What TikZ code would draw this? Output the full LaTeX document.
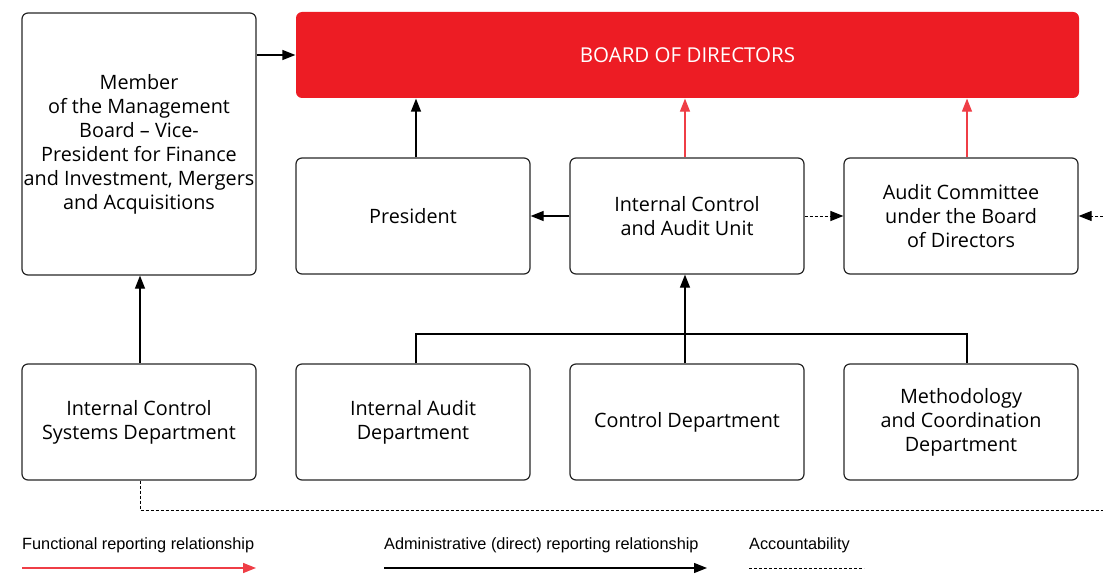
\documentclass[tikz,border=0pt]{standalone}
\usepackage{fontspec}
\setmainfont{Open Sans}
\newfontfamily\legendfont{Liberation Sans}
\usetikzlibrary{arrows.meta,calc}
\definecolor{bred}{HTML}{ED1C24}
\definecolor{lred}{HTML}{EF3E46}
\tikzset{
  box/.style={draw=black!85,line width=1.2pt,rounded corners=6pt,minimum width=234pt,minimum height=116pt,align=center,font=\fontsize{19.8}{24}\selectfont,inner sep=0pt},
  arr/.style={line width=1.2pt,-{Triangle[length=13pt,width=10pt]}},
  farr/.style={line width=1.1pt,draw=lred,-{Triangle[length=13pt,width=10pt]},color=lred},
  acc/.style={line width=1pt,dash pattern=on 3pt off 2pt},
  accarr/.style={acc,-{Triangle[length=13pt,width=10pt]}},
  leg/.style={anchor=west,inner sep=0pt,font=\legendfont\fontsize{16.3}{18}\selectfont}
}
\begin{document}
\begin{tikzpicture}[x=1pt,y=-1pt]
\useasboundingbox (0,0) rectangle (1103,575);
\clip (0,0) rectangle (1103,575);
\node[box,minimum height=262pt] (mem) at (139,144) {Member\\of the Management\\Board -- Vice-\\President for Finance\\and Investment, Mergers\\and Acquisitions};
\node[box,fill=bred,draw=none,minimum width=783pt,minimum height=86pt,text=white,font=\fontsize{20.5}{24}\selectfont] (bod) at (687.5,55) {BOARD OF DIRECTORS};
\node[box] (pres) at (413,216) {President};
\node[box] (icau) at (687,216) {Internal Control\\and Audit Unit};
\node[box] (ac) at (961,216) {Audit Committee\\under the Board\\of Directors};
\node[box] (icsd) at (139,422) {Internal Control\\Systems Department};
\node[box] (iad) at (413,422) {Internal Audit\\Department};
\node[box] (cd) at (687,422) {Control Department};
\node[box] (mcd) at (961,422) {Methodology\\and Coordination\\Department};
% connectors
\draw[arr] (mem.east |- bod.west) -- (bod.west);
\draw[arr] ([xshift=3pt]pres.north) -- ([xshift=3pt]pres.north |- bod.south);
\draw[farr] ([xshift=-2pt]icau.north) -- ([xshift=-2pt]icau.north |- bod.south);
\draw[farr] ([xshift=6pt]ac.north) -- ([xshift=6pt]ac.north |- bod.south);
\draw[arr] (icau.west) -- (pres.east);
\draw[accarr] (icau.east) -- (ac.west);
\draw[arr] ([xshift=1pt]icsd.north) -- ([xshift=1pt]mem.south);
\draw[arr] ([xshift=-2pt]cd.north) -- ([xshift=-2pt]icau.south);
\coordinate (tl) at (416,334);
\coordinate (tr) at (967,334);
\draw[line width=1.2pt] ([xshift=3pt]iad.north) -- (tl) -- (tr) -- ([xshift=6pt]mcd.north);
\coordinate (d1) at (140,510);
\coordinate (d2) at (1120,510);
\coordinate (d3) at (1120,216);
\draw[accarr] ([xshift=1pt]icsd.south) -- (d1) -- (d2) -- (d3) -- (ac.east);
% legend
\node[leg] (l1) at (22,545) {Functional reporting relationship};
\node[leg] (l2) at (384,545) {Administrative (direct) reporting relationship};
\node[leg] (l3) at (749,545) {Accountability};
\coordinate (a1) at (22,568); \coordinate (b1) at (256,568);
\coordinate (a2) at (384,568); \coordinate (b2) at (707,568);
\coordinate (a3) at (749,568); \coordinate (b3) at (864,568);
\draw[farr,line width=1.5pt] (a1) -- (b1);
\draw[arr] (a2) -- (b2);
\draw[acc] (a3) -- (b3);
\end{tikzpicture}
\end{document}
